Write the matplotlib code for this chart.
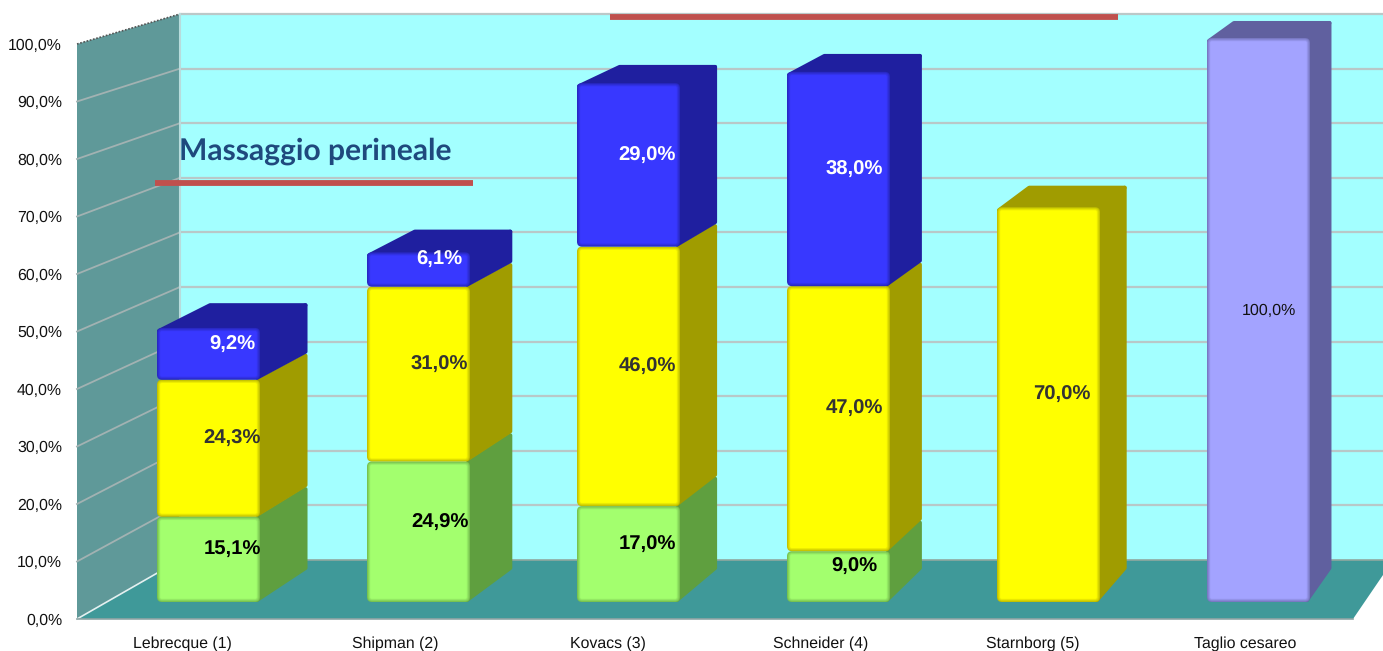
import matplotlib
matplotlib.use("Agg")
import matplotlib.pyplot as plt
from matplotlib.patches import FancyBboxPatch, Polygon
from matplotlib.colors import to_rgb

plt.rcParams['font.family'] = ['Liberation Sans', 'DejaVu Sans']
plt.rcParams['text.hinting'] = 'none'

categories = ["Lebrecque (1)", "Shipman (2)", "Kovacs (3)", "Schneider (4)", "Starnborg (5)", "Taglio cesareo"]
green = [15.1, 24.9, 17.0, 9.0, 0, 0]
yellow = [24.3, 31.0, 46.0, 47.0, 70.0, 0]
blue = [9.2, 6.1, 29.0, 38.0, 0, 0]
purple = [0, 0, 0, 0, 0, 100.0]
y_ticks = [0, 10, 20, 30, 40, 50, 60, 70, 80, 90, 100]
annotation = "Massaggio perineale"

W, H = 1383, 651
fig = plt.figure(figsize=(W / 100, H / 100), dpi=100, facecolor="white")

# Pixel layer: walls, floor, annotations
ax_px = fig.add_axes([0, 0, 1, 1], zorder=0)
ax_px.set_xlim(0, W)
ax_px.set_ylim(H, 0)
ax_px.axis("off")

WALL_L, WALL_B, FRONT_0, FRONT_100, BACK_0, BACK_100, FRONT_R = 77, 180, 619, 44, 560, 14, 1353
ax_px.add_patch(Polygon([(WALL_B, BACK_100), (W, BACK_100), (W, BACK_0), (WALL_B, BACK_0)], fc="#A3FFFF", ec="none"))
ax_px.add_patch(Polygon([(WALL_L, FRONT_100), (WALL_B, BACK_100), (WALL_B, BACK_0), (WALL_L, FRONT_0)], fc="#5F9999", ec="none"))
ax_px.add_patch(Polygon([(WALL_L, FRONT_0), (WALL_B, BACK_0), (W, BACK_0), (W, 575), (FRONT_R, FRONT_0)], fc="#3F9999", ec="none"))
for v in y_ticks:
    yf = FRONT_0 + (FRONT_100 - FRONT_0) * v / 100
    yb = BACK_0 + (BACK_100 - BACK_0) * v / 100
    if v == 0:
        ax_px.plot([WALL_L, WALL_B], [yf, yb], color="#E4F0F0", lw=1.2)
        ax_px.plot([WALL_B, W], [yb, yb], color="#8FA8A0", lw=1.2)
    elif v == 100:
        ax_px.plot([WALL_L, WALL_B], [yf, yb], color="#555555", lw=1.2, ls=(0, (1, 1)))
        ax_px.plot([WALL_B, W], [yb, yb], color="#BBC8C8", lw=1.6)
    else:
        ax_px.plot([WALL_L, WALL_B], [yf, yb], color="#A2B2B2", lw=1.3)
        ax_px.plot([WALL_B, W], [yb, yb], color="#B8C8C8", lw=1.6)
ax_px.plot([WALL_B, WALL_B], [BACK_100, BACK_0], color="#B8DCDC", lw=1.5)
ax_px.plot([WALL_L, FRONT_R], [FRONT_0, FRONT_0], color="#8FA5A5", lw=1.2)
ax_px.plot([155, 473], [183, 183], color="#C0504D", lw=4.2, solid_capstyle="butt")
ax_px.plot([610, 1118], [17, 17], color="#C0504D", lw=4.2, solid_capstyle="butt")
ax_px.text(179, 151, annotation, family=["Lato", "DejaVu Sans"], fontweight="bold", fontsize=21.6,
           color="#1F497D", ha="left", va="center")

# Axis layer: tick labels on the front edge of the chart
ax_tick = fig.add_axes([(WALL_L - 1) / W, 1 - FRONT_0 / H, (FRONT_R - WALL_L) / W, (FRONT_0 - FRONT_100) / H], zorder=1)
ax_tick.patch.set_alpha(0)
ax_tick.set_xlim(-0.5, len(categories) - 0.5)
ax_tick.set_ylim(0, 100)
ax_tick.set_xticks(range(len(categories)), categories, fontsize=11.4, color="#111111")
ax_tick.set_yticks(y_ticks, [f"{v},0%" for v in y_ticks], fontsize=11.4, color="#111111")
ax_tick.tick_params(axis="both", length=0)
ax_tick.tick_params(axis="x", pad=12)
ax_tick.tick_params(axis="y", pad=10)
for s in ax_tick.spines.values():
    s.set_visible(False)

# Bar layer: x in category units, y in percent
PX_X = 210.0
PX_Y = 5.64
X0, BASE = 208.5, 602.0
ax = fig.add_axes([0, 0, 1, 1], zorder=2)
ax.patch.set_alpha(0)
ax.axis("off")
ax.set_xlim((0 - X0) / PX_X, (W - X0) / PX_X)
ax.set_ylim((BASE - H) / PX_Y, BASE / PX_Y)

HALF = 51.5 / PX_X
ASPECT = PX_X / PX_Y
ROUND_LW = 2.9  # 4 px stroke, gives 2 px rounded corners
INSET = 2.0


def depth_x(i, x):
    px = X0 + PX_X * (i + x)
    return (47.5 - 0.0248 * (px - 260)) / PX_X


def depth_y(v):
    return (32 - 0.15 * v) / PX_Y


def mix(a, b, t):
    a, b = to_rgb(a), to_rgb(b)
    return tuple(p + (q - p) * t for p, q in zip(a, b))


def side(i, lo, hi, color):
    x = i + HALF - 3 / PX_X
    d = depth_x(i, HALF) + 3 / PX_X - INSET / PX_X
    ax.add_patch(Polygon([(x, lo + INSET / PX_Y), (x + d, lo + depth_y(lo) + INSET / PX_Y),
                          (x + d, hi + depth_y(hi) - INSET / PX_Y), (x, hi - INSET / PX_Y)],
                         fc=color, ec=color, lw=ROUND_LW, joinstyle="round", zorder=3))


def top(i, v, color):
    dl, dr = depth_x(i, -HALF), depth_x(i, HALF)
    dy = depth_y(v) - INSET / PX_Y
    y0 = v - 3 / PX_Y
    ax.add_patch(Polygon([(i - HALF + INSET / PX_X, y0), (i + HALF, y0),
                          (i + HALF + dr - INSET / PX_X, v + dy), (i - HALF + dl + 3 / PX_X, v + dy)],
                         fc=color, ec=color, lw=ROUND_LW, joinstyle="round", zorder=3))


def front(i, lo, hi, color, edge):
    layers = 5
    for k in range(layers):
        inset = k * 0.8
        t = 0.35 + 0.65 * k / (layers - 1)
        x = i - HALF + inset / PX_X
        w = 2 * HALF - 2 * inset / PX_X
        y = lo + inset / PX_Y
        h = (hi - lo) - 2 * inset / PX_Y
        style = f"round,pad=0,rounding_size={max(5 - inset, 1) / PX_X}"
        ax.add_patch(FancyBboxPatch((x, y), w, h, boxstyle=style, mutation_aspect=ASPECT,
                                    fc=mix(edge, color, t), ec="none", zorder=4))


series = [
    (green, "#A3FF6E", "#5F9F3F", "#000000"),
    (yellow, "#FFFF00", "#A09C00", "#333333"),
    (blue, "#3838FF", "#1F1F9F", "#FFFFFF"),
    (purple, "#A3A3FF", "#60609F", "#111111"),
]

for i in range(len(categories)):
    bottom = 0.0
    segments = []
    for values, color, dark, txt in series:
        val = values[i]
        if val > 0:
            segments.append((bottom, bottom + val, color, dark, txt, val))
            bottom += val
    for lo, hi, color, dark, txt, val in segments:
        side(i, lo, hi, dark)
    lo, hi, color, dark, txt, val = segments[-1]
    top(i, hi, dark)
    for lo, hi, color, dark, txt, val in segments:
        front(i, lo, hi, color, dark)
    for lo, hi, color, dark, txt, val in segments:
        off_x = depth_x(i, HALF) * PX_X / 2
        is_purple = color == "#A3A3FF"
        ax.annotate(f"{val:.1f}%".replace(".", ","), (i, (lo + hi) / 2),
                    xytext=(off_x, 9.5), textcoords="offset pixels", ha="center", va="center",
                    fontsize=11.5 if is_purple else 14.6, fontweight="normal" if is_purple else "bold",
                    color=txt, zorder=6)

fig.savefig("out.png", dpi=100)
